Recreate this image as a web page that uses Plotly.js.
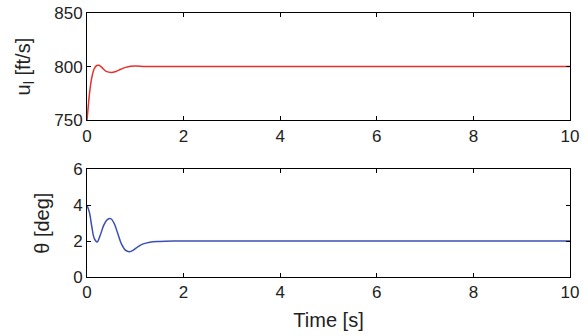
<!DOCTYPE html>
<html><head><meta charset="utf-8">
<script src="https://cdn.plot.ly/plotly-3.0.1.min.js"></script>
<style>html,body{margin:0;padding:0;background:#fff}#c{width:588px;height:336px}</style>
</head><body><div id="c"></div>
<script>
const tU = [0, 0.03, 0.06, 0.1, 0.15, 0.2, 0.25, 0.3, 0.4, 0.5, 0.6, 0.7, 0.8, 0.9, 1.0, 1.2, 1.5, 2, 4, 6, 8, 10];
const uVals = [750, 765, 778, 790, 798, 801, 801.2, 799.5, 795.5, 794.5, 795.5, 797.5, 799.3, 800.4, 800.6, 800.2, 800, 800, 800, 800, 800, 800];
const tTh = [0, 0.05, 0.1, 0.15, 0.21, 0.27, 0.35, 0.42, 0.49, 0.56, 0.64, 0.72, 0.8, 0.88, 0.96, 1.05, 1.15, 1.3, 1.5, 1.8, 2, 4, 6, 8, 10];
const thVals = [4, 3.6, 2.8, 2.15, 1.95, 2.3, 2.9, 3.2, 3.25, 3.0, 2.4, 1.8, 1.48, 1.41, 1.5, 1.68, 1.83, 1.94, 1.98, 2.0, 2.0, 2.0, 2.0, 2.0, 2.0];
const xTicks = [0, 2, 4, 6, 8, 10];
const uTicks = [750, 800, 850];
const thTicks = [0, 2, 4, 6];

const font = {family: 'Liberation Sans, Arial, sans-serif', size: 17, color: '#222'};
const tfont = {family: 'Liberation Sans, Arial, sans-serif', size: 20, color: '#222'};
const axBase = {showgrid: false, zeroline: false, showline: true, linecolor: '#000', linewidth: 1,
  mirror: 'ticks', ticks: 'inside', ticklen: 4, tickcolor: '#000', tickfont: font};

const data = [
  {x: tU, y: uVals, type: 'scatter', mode: 'lines', line: {color: '#e4312b', width: 1.5, shape: 'spline'}, xaxis: 'x', yaxis: 'y'},
  {x: tTh, y: thVals, type: 'scatter', mode: 'lines', line: {color: '#3b4fb3', width: 1.5, shape: 'spline'}, xaxis: 'x2', yaxis: 'y2'}
];
const layout = {
  width: 588, height: 336, showlegend: false,
  paper_bgcolor: '#fff', plot_bgcolor: '#fff', font: font,
  margin: {l: 87, r: 18, t: 13, b: 59},
  xaxis: Object.assign({}, axBase, {domain: [0, 1], range: [0, 10], tickvals: xTicks, anchor: 'y'}),
  yaxis: Object.assign({}, axBase, {domain: [0.594, 1], range: [750, 850], tickvals: uTicks, anchor: 'x',
    title: {text: 'u<sub>l</sub> [ft/s]', font: tfont, standoff: 18}}),
  xaxis2: Object.assign({}, axBase, {domain: [0, 1], range: [0, 10], tickvals: xTicks, anchor: 'y2',
    title: {text: 'Time [s]', font: tfont, standoff: 11}}),
  yaxis2: Object.assign({}, axBase, {domain: [0, 0.408], range: [0, 6], tickvals: thTicks, anchor: 'x2',
    title: {text: 'θ [deg]', font: tfont, standoff: 18}})
};
Plotly.newPlot('c', data, layout, {displayModeBar: false, staticPlot: true});
</script>
</body></html>
